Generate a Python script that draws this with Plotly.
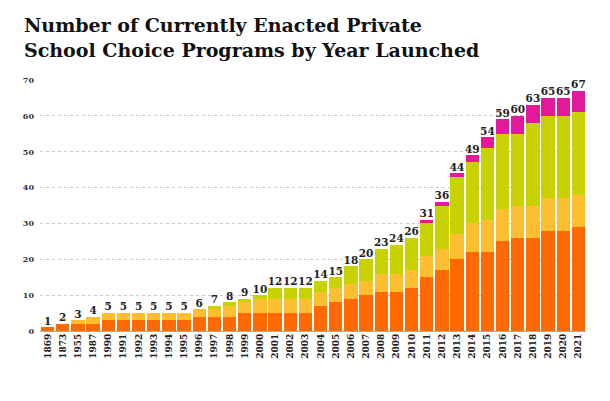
"""
Nombre de programmes de choix scolaire privé par année de lancement
"""
import plotly.graph_objects as go

years = ['1869', '1873', '1955', '1987', '1990', '1991', '1992', '1993', '1994', '1995',
         '1996', '1997', '1998', '1999', '2000', '2001', '2002', '2003', '2004', '2005',
         '2006', '2007', '2008', '2009', '2010', '2011', '2012', '2013', '2014', '2015',
         '2016', '2017', '2018', '2019', '2020', '2021']

# segments empilés
orange = [1, 2, 2, 2, 3, 3, 3, 3, 3, 3,
          4, 4, 4, 5, 5, 5, 5, 5, 7, 8,
          9, 10, 11, 11, 12, 15, 17, 20, 22, 22,
          25, 26, 26, 28, 28, 29]
yellow = [0, 0, 1, 2, 2, 2, 2, 2, 2, 2,
          2, 2, 3, 3, 4, 4, 4, 4, 4, 4,
          4, 4, 5, 5, 5, 6, 6, 7, 8, 9,
          9, 9, 9, 9, 9, 9]
green = [0, 0, 0, 0, 0, 0, 0, 0, 0, 0,
         0, 1, 1, 1, 1, 3, 3, 3, 3, 3,
         5, 6, 7, 8, 9, 9, 12, 16, 17, 20,
         21, 20, 23, 23, 23, 23]
pink = [0, 0, 0, 0, 0, 0, 0, 0, 0, 0,
        0, 0, 0, 0, 0, 0, 0, 0, 0, 0,
        0, 0, 0, 0, 0, 1, 1, 1, 2, 3,
        4, 5, 5, 5, 5, 6]

totals = [o + y + g + p for o, y, g, p in zip(orange, yellow, green, pink)]

serif = 'DejaVu Serif'
W, H = 610, 401
# la page ajoute une marge de 8px autour du graphique
L, R, T, B = 32, 32, 72, 78

fig = go.Figure()
for vals, col in [(orange, '#FF6A00'), (yellow, '#FDBE30'),
                  (green, '#C8D200'), (pink, '#E1199A')]:
    fig.add_trace(go.Bar(x=years, y=vals, marker=dict(color=col, line=dict(width=0)),
                         hoverinfo='skip', showlegend=False))

# étiquettes des totaux
fig.add_trace(go.Scatter(
    x=years, y=totals, mode='text', text=[str(t) for t in totals],
    textposition='top center',
    textfont=dict(family=serif, size=10.5, color='#222222', weight='bold'),
    showlegend=False, hoverinfo='skip', cliponaxis=False))

# titre en annotation (position en pixels)
pw, ph = W - L - R, H - T - B
fig.add_annotation(
    text='Number of Currently Enacted Private<br>School Choice Programs by Year Launched',
    xref='paper', yref='paper',
    x=(14 - L) / pw, y=1 + (T - 4) / ph,
    xanchor='left', yanchor='top', align='left', showarrow=False,
    font=dict(family=serif, size=19, color='#111111', weight='bold'))

fig.update_layout(
    barmode='stack',
    bargap=0.13,
    width=W, height=H,
    margin=dict(l=L, r=R, t=T, b=B, autoexpand=False),
    plot_bgcolor='white',
    paper_bgcolor='white',
)

fig.update_yaxes(
    range=[0, 70], dtick=10, automargin=False,
    showgrid=True, gridcolor='#c8c8c8', griddash='dot', gridwidth=1,
    zeroline=True, zerolinecolor='#aaaaaa', zerolinewidth=1,
    tickfont=dict(family=serif, size=8, color='#333333', weight='bold'),
    ticks='', ticklabelstandoff=5,
)
fig.update_xaxes(
    type='category', tickangle=-90, automargin=False,
    range=[-0.5, len(years) - 0.5],
    tickfont=dict(family=serif, size=9, color='#222222', weight='bold'),
    showgrid=False, ticks='',
)

fig.write_html("out.html")
